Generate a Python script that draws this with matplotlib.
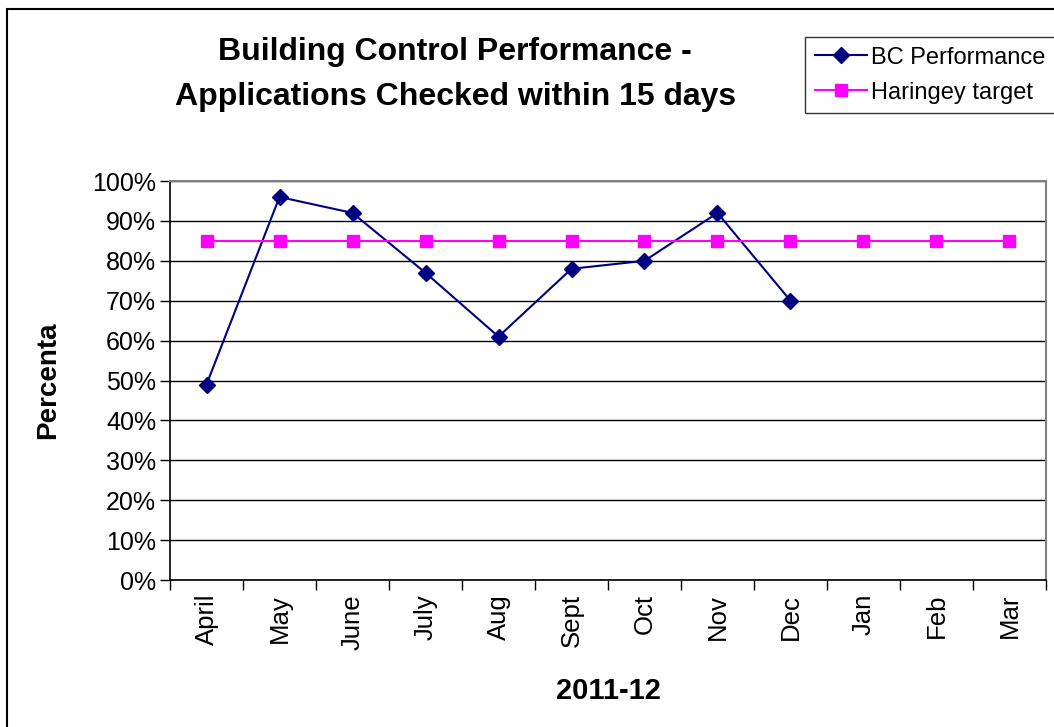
import matplotlib.pyplot as plt
from matplotlib.patches import Rectangle
from matplotlib.ticker import FixedLocator, PercentFormatter

plt.rcParams['font.family'] = ['Liberation Sans', 'DejaVu Sans']

months = ['April', 'May', 'June', 'July', 'Aug', 'Sept', 'Oct', 'Nov', 'Dec', 'Jan', 'Feb', 'Mar']
bc_perf = [49, 96, 92, 77, 61, 78, 80, 92, 70]   # only up to Dec
target = [85] * 12

fig = plt.figure(figsize=(10.54, 7.27), dpi=100)
ax = fig.add_axes([0.1613, 0.2022, 0.9924 - 0.1613, 0.751 - 0.2022])

x_all = list(range(len(months)))
ax.plot(x_all[:len(bc_perf)], bc_perf, color='#000080', lw=1.5, marker='D',
        markersize=8.5, label='BC Performance')
ax.plot(x_all, target, color='#FF00FF', lw=1.5, marker='s',
        markersize=8, label='Haringey target')

ax.set_ylim(0, 100)
ax.set_xlim(-0.5, 11.5)
ax.set_yticks(range(0, 101, 10))
ax.yaxis.set_major_formatter(PercentFormatter(decimals=0))
ax.grid(axis='y', color='black', lw=1)
ax.set_axisbelow(True)

# category ticks sit between the months, labels at the centres
ax.xaxis.set_major_locator(FixedLocator([i - 0.5 for i in range(13)]))
ax.xaxis.set_minor_locator(FixedLocator(x_all))
ax.set_xticklabels([], minor=False)
ax.set_xticklabels(months, minor=True, rotation=90, fontsize=18.5)
ax.tick_params(axis='x', which='minor', length=0, pad=10)
ax.tick_params(axis='x', which='major', length=7, width=1, direction='out')
ax.tick_params(axis='y', length=7, width=1, labelsize=18, pad=3)

for side in ['top', 'right']:
    ax.spines[side].set_color('#808080')
    ax.spines[side].set_linewidth(1.5)
for side in ['left', 'bottom']:
    ax.spines[side].set_color('black')
    ax.spines[side].set_linewidth(1.2)

ax.set_xlabel('2011-12', fontsize=21, fontweight='bold', labelpad=20)
ax.set_ylabel('Percenta', fontsize=20, fontweight='bold', labelpad=22)

fig.text(0.432, 0.928, 'Building Control Performance -', ha='center', va='center',
         fontsize=23, fontweight='bold')
fig.text(0.432, 0.866, 'Applications Checked within 15 days', ha='center', va='center',
         fontsize=23, fontweight='bold')

leg = fig.legend(loc='upper left', bbox_to_anchor=(0.764, 0.949), fontsize=17,
                 frameon=True, fancybox=False, edgecolor='black', borderpad=0.4,
                 handlelength=2.2, handletextpad=0.2, labelspacing=0.55, borderaxespad=0)
leg.get_frame().set_linewidth(1)

# outer chart border
fig.patches.append(Rectangle((7 / 1054, -0.05), 1.1, 1 - 9 / 727 + 0.05,
                             transform=fig.transFigure, fill=False,
                             edgecolor='black', lw=1.5))

fig.savefig('out.png', dpi=100)
